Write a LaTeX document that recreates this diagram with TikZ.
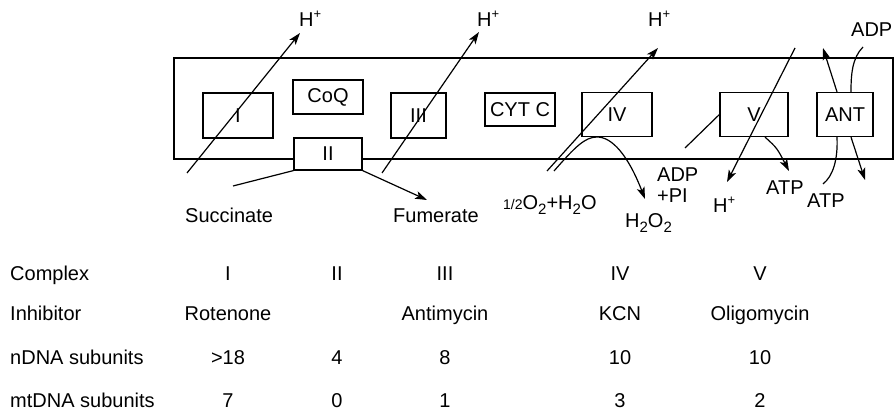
\documentclass[tikz,border=0pt]{standalone}
\usepackage{fontspec}
\setmainfont{Liberation Sans}
\usetikzlibrary{arrows.meta}
\newcommand\sbs[1]{\raisebox{-5pt}{\fontsize{15}{15}\selectfont #1}}
\newcommand\sps[1]{\raisebox{8pt}{\fontsize{13}{13}\selectfont #1}}
\tikzset{
  box/.style={draw, line width=1.2pt, inner sep=0pt, font=\fontsize{20}{24}\selectfont},
  wbox/.style={box, fill=white},
  lbl/.style={inner sep=0pt, anchor=base west, font=\fontsize{20}{24}\selectfont},
  cell/.style={inner sep=0pt, anchor=base, font=\fontsize{20}{24}\selectfont},
  ln/.style={line width=1.2pt},
  arr/.style={ln, -{Stealth[length=12pt,width=8pt,inset=3pt]}},
}
\begin{document}
\begin{tikzpicture}[x=1pt,y=-1pt]
\useasboundingbox (0,0) rectangle (895,411);
% membrane
\draw[line width=1.3pt] (174,58) rectangle (893,159);
% boxes
\node[box, minimum width=70pt, minimum height=45pt] (I) at (238,115.5) {I};
\node[box, minimum width=70pt, minimum height=34pt] (CoQ) at (328,97) {CoQ};
\node[wbox, minimum width=68pt, minimum height=32pt] (II) at (328,154) {II};
\node[box, minimum width=55pt, minimum height=45pt] (III) at (418.5,115.5) {III};
\node[box, minimum width=70pt, minimum height=33pt] (CYT) at (520,109.5) {CYT C};
\node[box, minimum width=70pt, minimum height=44pt] (IV) at (617,114.5) {IV};
\node[box, minimum width=68pt, minimum height=44pt] (V) at (754,114.5) {V};
\node[box, minimum width=56pt, minimum height=44pt] (ANT) at (845,114.5) {ANT};
% labels
\node[lbl] (h1) at (299,27) {H\sps{+}};
\node[lbl] (h2) at (477,27) {H\sps{+}};
\node[lbl] (h3) at (648,27) {H\sps{+}};
\node[lbl] (h4) at (713,213) {H\sps{+}};
\node[lbl] (succ) at (185,223) {Succinate};
\node[lbl] (fum) at (393,223) {Fumerate};
\node[lbl] (o2) at (503,210) {{\fontsize{14}{14}\selectfont 1/2}O\sbs{2}+H\sbs{2}O};
\node[lbl] (adp1) at (657,182) {ADP};
\node[lbl] (pi) at (657,203) {+PI};
\node[lbl] (h2o2) at (625,228) {H\sbs{2}O\sbs{2}};
\node[lbl] (atp1) at (766,195) {ATP};
\node[lbl] (atp2) at (807,208) {ATP};
\node[lbl] (adp2) at (851,37) {ADP};
% coordinates
\coordinate (a1s) at (187,173); \coordinate (a1e) at (300,33);
\coordinate (a2s) at (382,173); \coordinate (a2e) at (479,32);
\coordinate (a3s) at (547,171); \coordinate (a3e) at (658,48);
\coordinate (a4s) at (554,171); \coordinate (a4m) at (597,137); \coordinate (a4e) at (645,199);
\coordinate (sc) at (233,186); \coordinate (fe) at (427,200);
\coordinate (v1s) at (685,148);
\coordinate (v2s) at (795,48); \coordinate (v2e) at (727,182);
\coordinate (v3e) at (789,171);
\coordinate (t1e) at (823,48);
\coordinate (t2s) at (863,47);
\coordinate (t3e) at (823,184);
\coordinate (t4e) at (865,180);
% connectors
\draw[arr] (a1s) -- (a1e);
\draw[arr] (a2s) -- (a2e);
\draw[arr] (a3s) -- (a3e);
\draw[arr] (a4s) .. controls (575,147) and (585,137) .. (a4m)
               .. controls (612,137) and (628,155) .. (a4e);
\draw[ln] (sc) -- (II.south west);
\draw[arr] (II.south east) -- (fe);
\draw[ln] (v1s) -- (V.west);
\draw[arr] (v2s) -- (v2e);
\draw[arr] ([xshift=11pt]V.south) .. controls (777,148) .. (v3e);
\draw[arr] ([xshift=-8pt]ANT.north) -- (t1e);
\draw[ln] (t2s) .. controls (852,58) and (851,75) .. ([xshift=6pt]ANT.north);
\draw[ln] ([xshift=-8pt]ANT.south) .. controls (838,160) and (833,176) .. (t3e);
\draw[arr] ([xshift=6pt]ANT.south) -- (t4e);
% table
\node[lbl] (r1) at (10,281) {Complex};
\node[lbl] (r2) at (10,321) {Inhibitor};
\node[lbl] (r3) at (10,365) {nDNA subunits};
\node[lbl] (r4) at (10,408) {mtDNA subunits};
\node[cell] (c11) at (228,281) {I};
\node[cell] (c12) at (337,281) {II};
\node[cell] (c13) at (445,281) {III};
\node[cell] (c14) at (620,281) {IV};
\node[cell] (c15) at (760,281) {V};
\node[cell] (c21) at (228,321) {Rotenone};
\node[cell] (c23) at (445,321) {Antimycin};
\node[cell] (c24) at (620,321) {KCN};
\node[cell] (c25) at (760,321) {Oligomycin};
\node[cell] (c31) at (228,365) {>18};
\node[cell] (c32) at (337,365) {4};
\node[cell] (c33) at (445,365) {8};
\node[cell] (c34) at (620,365) {10};
\node[cell] (c35) at (760,365) {10};
\node[cell] (c41) at (228,408) {7};
\node[cell] (c42) at (337,408) {0};
\node[cell] (c43) at (445,408) {1};
\node[cell] (c44) at (620,408) {3};
\node[cell] (c45) at (760,408) {2};
\end{tikzpicture}
\end{document}
